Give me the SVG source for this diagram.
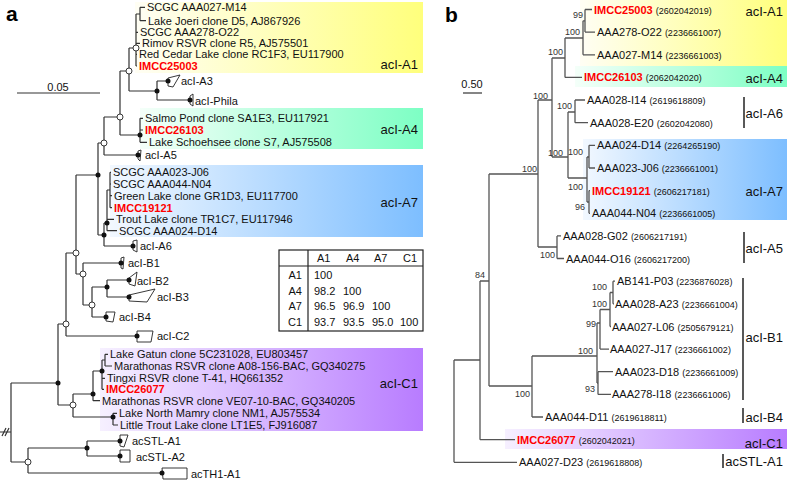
<svg xmlns="http://www.w3.org/2000/svg" width="787" height="480" viewBox="0 0 787 480">
<defs>
<linearGradient id="gY" x1="0" x2="1" y1="0" y2="0"><stop offset="0" stop-color="#fffef4"/><stop offset="1" stop-color="#ffff7c"/></linearGradient>
<linearGradient id="gG" x1="0" x2="1" y1="0" y2="0"><stop offset="0" stop-color="#f4fff9"/><stop offset="1" stop-color="#7dffc4"/></linearGradient>
<linearGradient id="gB" x1="0" x2="1" y1="0" y2="0"><stop offset="0" stop-color="#f2f8ff"/><stop offset="1" stop-color="#7dbeff"/></linearGradient>
<linearGradient id="gP" x1="0" x2="1" y1="0" y2="0"><stop offset="0" stop-color="#f6f0ff"/><stop offset="1" stop-color="#b87cff"/></linearGradient>
<style>
.t{font-family:"Liberation Sans",Arial,sans-serif;font-size:11px;fill:#111}
.r{fill:#ff0000;font-weight:bold}
.n{font-size:9px}
.s{font-family:"Liberation Sans",Arial,sans-serif;font-size:9px;fill:#333}
.cl{font-family:"Liberation Sans",Arial,sans-serif;font-size:13px;fill:#111}
.pl{font-family:"Liberation Sans",Arial,sans-serif;font-size:21px;font-weight:bold;fill:#000}
.ln{stroke:#333;stroke-width:1.2;fill:none}
.lb{stroke:#555;stroke-width:1.3;fill:none}
.w{fill:#fff;stroke:#222;stroke-width:0.9}
.d{fill:#111}
.o{fill:#fff;stroke:#222;stroke-width:0.9}
</style>
</defs>
<rect width="787" height="480" fill="#fff"/>

<!-- panel a backgrounds -->
<g id="bands-a">
<rect x="135" y="2" width="288" height="71" fill="url(#gY)"/>
<rect x="140" y="108" width="283" height="41" fill="url(#gG)"/>
<rect x="110" y="165" width="313" height="72" fill="url(#gB)"/>
<rect x="100" y="348" width="323" height="83" fill="url(#gP)"/>
</g>
<!-- panel b backgrounds -->
<g id="bands-b">
<rect x="580" y="0" width="207" height="66" fill="url(#gY)"/>
<rect x="575" y="66" width="212" height="21" fill="url(#gG)"/>
<rect x="583" y="139" width="204" height="81" fill="url(#gB)"/>
<rect x="505" y="429" width="282" height="20" fill="url(#gP)"/>
</g>

<text class="pl" x="6" y="21">a</text>
<text class="pl" x="445" y="22">b</text>

<!-- scale bars -->
<g id="scale-a">
<line class="ln" x1="17" y1="93" x2="100" y2="93"/>
<text class="t" x="58" y="91" text-anchor="middle">0.05</text>
</g>
<g id="scale-b">
<line class="ln" x1="463" y1="93" x2="482" y2="93"/>
<text class="t" x="472" y="88" text-anchor="middle">0.50</text>
</g>

<!-- connectors panel a -->
<g id="connectors-a" class="ln">
<path d="M140,7.3V20.7 M140,7.3H145 M140,20.7H146"/>
<path d="M136,14V66 M136,14H140 M136,32.3H138 M136,43.3H140 M136,54.3H137 M136,66H137"/>
<path d="M129,48V91 M129,48H136 M129,91H157"/>
<path d="M157,81V100 M157,81H168 M157,100H190"/>
<path d="M120,71V135 M120,71H129 M120,135H140"/>
<path d="M140,118.3V142.3 M140,118.3H143 M140,130H143 M140,142.3H147"/>
<path d="M104,117V155 M104,117H120 M104,155H138"/>
<path d="M98,143V235 M98,143H104 M98,235H104"/>
<path d="M104,223V246 M104,223H107 M104,246H133"/>
<path d="M107,190V230.7 M107,190H110 M107,219.3H114 M107,230.7H117"/>
<path d="M110,172.3V207.7 M110,172.3H111 M110,184H111 M110,195.7H112 M110,207.7H112"/>
<path d="M76,175V274 M76,175H98 M76,274H83"/>
<path d="M83,263V305 M83,263H121 M83,305H92"/>
<path d="M92,287V317 M92,287H107 M92,317H106"/>
<path d="M107,280V297 M107,280H129 M107,297H129"/>
<path d="M66,253V336 M66,253H76 M66,336H137"/>
<path d="M58,324V405 M58,324H66 M58,405H73"/>
<path d="M73,394V417 M73,394H93 M73,417H113"/>
<path d="M93,371V400.7 M93,371H102 M93,400.7H100"/>
<path d="M102,360V389.3 M102,360H105 M102,378.3H105 M102,389.3H104"/>
<path d="M105,354.3V366 M105,354.3H108 M105,366H112"/>
<path d="M113,413.3V425 M113,413.3H117 M113,425H118"/>
<path d="M11,383V462 M11,383H58 M11,462H28 M0,432H11"/>
<path d="M2,436L6,428 M5,436L9,428"/>
<path d="M28,448V473 M28,448H87 M28,473H162"/>
<path d="M87,441V456 M87,441H120 M87,456H120"/>
</g>

<!-- collapsed clades panel a -->
<g id="wedges-a">
<polygon class="w" points="168,78 180,75 173,87 168,86"/>
<polygon class="w" points="190,96 193,94 193,106 190,104"/>
<polygon class="w" points="138,151 141,150 140,161 138,159"/>
<polygon class="w" points="133,241 137,240 137,252 133,250"/>
<polygon class="w" points="121,258 124,257 123,269 121,268"/>
<polygon class="w" points="129,278 137,272 135,286 129,284"/>
<polygon class="w" points="129,295 155,289 147,302 129,301"/>
<polygon class="w" points="106,312 115,312 113,322 106,321"/>
<polygon class="w" points="137,331 153,331 151,342 137,342"/>
<polygon class="w" points="120,435 128,435 124,447 120,446"/>
<polygon class="w" points="120,450 130,450 130,462 120,462"/>
<polygon class="w" points="162,468 187,468 187,479 163,479"/>
</g>

<!-- node marks panel a -->
<g id="marks-a">
<circle class="o" cx="136" cy="48" r="3"/>
<circle class="o" cx="129" cy="71" r="3"/>
<circle class="d" cx="157" cy="91" r="2.5"/>
<circle class="d" cx="168" cy="81" r="2.5"/>
<circle class="d" cx="190" cy="100" r="2.5"/>
<circle class="o" cx="120" cy="117" r="3"/>
<circle class="d" cx="140" cy="135" r="2.5"/>
<circle class="o" cx="104" cy="143" r="3"/>
<circle class="d" cx="138" cy="155" r="2.5"/>
<circle class="d" cx="98" cy="175" r="2.5"/>
<circle class="d" cx="107" cy="223" r="2.5"/>
<circle class="d" cx="104" cy="235" r="2.5"/>
<circle class="d" cx="133" cy="246" r="2.5"/>
<circle class="o" cx="76" cy="253" r="3"/>
<circle class="d" cx="121" cy="263" r="2.5"/>
<circle class="o" cx="83" cy="274" r="3"/>
<circle class="d" cx="129" cy="280" r="2.5"/>
<circle class="d" cx="107" cy="287" r="2.5"/>
<circle class="d" cx="129" cy="297" r="2.5"/>
<circle class="o" cx="92" cy="305" r="3"/>
<circle class="d" cx="106" cy="317" r="2.5"/>
<circle class="o" cx="66" cy="324" r="3"/>
<circle class="d" cx="137" cy="336" r="2.5"/>
<circle class="d" cx="102" cy="371" r="2.5"/>
<circle class="d" cx="58" cy="383" r="2.5"/>
<circle class="d" cx="93" cy="394" r="2.5"/>
<circle class="o" cx="73" cy="405" r="3"/>
<circle class="d" cx="113" cy="417" r="2.5"/>
<circle class="d" cx="87" cy="448" r="2.5"/>
<circle class="d" cx="120" cy="441" r="2.5"/>
<circle class="d" cx="120" cy="456" r="2.5"/>
<circle class="o" cx="28" cy="462" r="3"/>
<circle class="d" cx="162" cy="473" r="2.5"/>
</g>

<!-- leaf labels panel a -->
<g id="leaves-a">
<text class="t" x="147" y="11.3">SCGC AAA027-M14</text>
<text class="t" x="148" y="24.7">Lake Joeri clone D5, AJ867926</text>
<text class="t" x="140" y="36.3">SCGC AAA278-O22</text>
<text class="t" x="142" y="47.3">Rimov RSVR clone R5, AJ575501</text>
<text class="t" x="139" y="58.3">Red Cedar Lake clone RC1F3, EU117900</text>
<text class="t r" x="139" y="70">IMCC25003</text>
<text class="t" x="181" y="85">acI-A3</text>
<text class="t" x="195" y="105">acI-Phila</text>
<text class="t" x="145" y="122.3">Salmo Pond clone SA1E3, EU117921</text>
<text class="t r" x="145" y="134">IMCC26103</text>
<text class="t" x="149" y="146.3">Lake Schoehsee clone S7, AJ575508</text>
<text class="t" x="145" y="159">acI-A5</text>
<text class="t" x="113" y="176.3">SCGC AAA023-J06</text>
<text class="t" x="113" y="188">SCGC AAA044-N04</text>
<text class="t" x="114" y="199.7">Green Lake clone GR1D3, EU117700</text>
<text class="t r" x="114" y="211.7">IMCC19121</text>
<text class="t" x="116" y="223.3">Trout Lake clone TR1C7, EU117946</text>
<text class="t" x="119" y="234.7">SCGC AAA024-D14</text>
<text class="t" x="140" y="250">acI-A6</text>
<text class="t" x="128" y="267">acI-B1</text>
<text class="t" x="137" y="285">acI-B2</text>
<text class="t" x="157" y="301">acI-B3</text>
<text class="t" x="119" y="321">acI-B4</text>
<text class="t" x="157" y="340">acI-C2</text>
<text class="t" x="110" y="358.3">Lake Gatun clone 5C231028, EU803457</text>
<text class="t" x="114" y="370">Marathonas RSVR clone A08-156-BAC, GQ340275</text>
<text class="t" x="107" y="382.3">Tingxi RSVR clone T-41, HQ661352</text>
<text class="t r" x="106" y="393.3">IMCC26077</text>
<text class="t" x="102" y="404.7">Marathonas RSVR clone VE07-10-BAC, GQ340205</text>
<text class="t" x="119" y="417.3">Lake North Mamry clone NM1, AJ575534</text>
<text class="t" x="120" y="429">Little Trout Lake clone LT1E5, FJ916087</text>
<text class="t" x="132" y="445">acSTL-A1</text>
<text class="t" x="136" y="461">acSTL-A2</text>
<text class="t" x="191" y="478">acTH1-A1</text>
</g>

<g id="clade-labels-a">
<text class="cl" x="418" y="69" text-anchor="end">acI-A1</text>
<text class="cl" x="418" y="134" text-anchor="end">acI-A4</text>
<text class="cl" x="418" y="207" text-anchor="end">acI-A7</text>
<text class="cl" x="418" y="388" text-anchor="end">acI-C1</text>
</g>

<!-- identity table -->
<g id="table">
<rect x="279" y="250" width="144" height="81" fill="#fff" stroke="#222" stroke-width="1.2"/>
<line x1="308" y1="250" x2="308" y2="331" stroke="#222" stroke-width="1.2"/>
<line x1="279" y1="266" x2="423" y2="266" stroke="#222" stroke-width="1.2"/>
<text class="t" x="317" y="262">A1</text>
<text class="t" x="346" y="262">A4</text>
<text class="t" x="374" y="262">A7</text>
<text class="t" x="403" y="262">C1</text>
<text class="t" x="302" y="279" text-anchor="end">A1</text>
<text class="t" x="302" y="295" text-anchor="end">A4</text>
<text class="t" x="302" y="310" text-anchor="end">A7</text>
<text class="t" x="302" y="326" text-anchor="end">C1</text>
<text class="t" x="314" y="279">100</text>
<text class="t" x="314" y="295">98.2</text><text class="t" x="343" y="295">100</text>
<text class="t" x="314" y="310">96.5</text><text class="t" x="343" y="310">96.9</text><text class="t" x="372" y="310">100</text>
<text class="t" x="314" y="326">93.7</text><text class="t" x="343" y="326">93.5</text><text class="t" x="372" y="326">95.0</text><text class="t" x="400" y="326">100</text>
</g>

<!-- connectors panel b -->
<g id="connectors-b" class="lb">
<path d="M585,9.5V32.1 M585,9.5H592 M585,32.1H595"/>
<path d="M583,20.8V54.8 M583,20.8H585 M583,54.8H595"/>
<path d="M565,38V77.4 M565,38H583 M565,77.4H582"/>
<path d="M552,58V157 M552,58H565 M552,157H568"/>
<path d="M575,100V122.7 M575,100H585 M575,122.7H588"/>
<path d="M568,112V178 M568,112H575 M568,178H587"/>
<path d="M587,157V202 M587,157H589 M587,202H589"/>
<path d="M589,145.3V168 M589,145.3H595 M589,168H595"/>
<path d="M589,190.6V213.3 M589,190.6H590 M589,213.3H590"/>
<path d="M538,100V247 M538,100H552 M538,247H557"/>
<path d="M557,235.9V258.5 M557,235.9H561 M557,258.5H564"/>
<path d="M489,174V386 M489,174H538 M489,386H532"/>
<path d="M613,281.2V303.8 M613,281.2H615 M613,303.8H614"/>
<path d="M610,292.5V326.5 M610,292.5H613 M610,326.5H611"/>
<path d="M600,309.5V349.1 M600,309.5H610 M600,349.1H609"/>
<path d="M598,371.7V394.4 M598,371.7H613 M598,394.4H611"/>
<path d="M597,323V383 M597,323H600 M597,383H598"/>
<path d="M532,356V417 M532,356H597 M532,417H543"/>
<path d="M480,281V439.7 M480,281H489 M480,439.7H515"/>
<path d="M454,360V462.3 M454,360H480 M454,462.3H517"/>
</g>

<!-- support values -->
<g id="support-b">
<text class="s" x="583" y="18" text-anchor="end">99</text>
<text class="s" x="580" y="35" text-anchor="end">100</text>
<text class="s" x="563" y="55" text-anchor="end">100</text>
<text class="s" x="548" y="99" text-anchor="end">100</text>
<text class="s" x="572" y="109" text-anchor="end">100</text>
<text class="s" x="563" y="156" text-anchor="end">100</text>
<text class="s" x="583" y="155" text-anchor="end">100</text>
<text class="s" x="537" y="172" text-anchor="end">100</text>
<text class="s" x="583" y="190" text-anchor="end">100</text>
<text class="s" x="585" y="210" text-anchor="end">96</text>
<text class="s" x="555" y="258" text-anchor="end">100</text>
<text class="s" x="485" y="278" text-anchor="end">84</text>
<text class="s" x="607" y="290" text-anchor="end">100</text>
<text class="s" x="607" y="307" text-anchor="end">100</text>
<text class="s" x="596" y="327" text-anchor="end">99</text>
<text class="s" x="593" y="354" text-anchor="end">100</text>
<text class="s" x="595" y="392" text-anchor="end">93</text>
<text class="s" x="530" y="397" text-anchor="end">100</text>
</g>

<!-- leaf labels panel b -->
<g id="leaves-b">
<text class="t" x="594" y="13.5"><tspan class="r">IMCC25003</tspan> <tspan class="n">(2602042019)</tspan></text>
<text class="t" x="597" y="36.1">AAA278-O22 <tspan class="n">(2236661007)</tspan></text>
<text class="t" x="597" y="58.8">AAA027-M14 <tspan class="n">(2236661003)</tspan></text>
<text class="t" x="584" y="81.4"><tspan class="r">IMCC26103</tspan> <tspan class="n">(2062042020)</tspan></text>
<text class="t" x="587" y="104">AAA028-I14 <tspan class="n">(2619618809)</tspan></text>
<text class="t" x="590" y="126.7">AAA028-E20 <tspan class="n">(2602042080)</tspan></text>
<text class="t" x="597" y="149.3">AAA024-D14 <tspan class="n">(2264265190)</tspan></text>
<text class="t" x="597" y="172">AAA023-J06 <tspan class="n">(2236661001)</tspan></text>
<text class="t" x="592" y="194.6"><tspan class="r">IMCC19121</tspan> <tspan class="n">(2606217181)</tspan></text>
<text class="t" x="592" y="217.3">AAA044-N04 <tspan class="n">(2236661005)</tspan></text>
<text class="t" x="563" y="239.9">AAA028-G02 <tspan class="n">(2606217191)</tspan></text>
<text class="t" x="566" y="262.5">AAA044-O16 <tspan class="n">(2606217200)</tspan></text>
<text class="t" x="617" y="285.2">AB141-P03 <tspan class="n">(2236876028)</tspan></text>
<text class="t" x="615" y="307.8">AAA028-A23 <tspan class="n">(2236661004)</tspan></text>
<text class="t" x="612" y="330.5">AAA027-L06 <tspan class="n">(2505679121)</tspan></text>
<text class="t" x="610" y="353.1">AAA027-J17 <tspan class="n">(2236661002)</tspan></text>
<text class="t" x="615" y="375.7">AAA023-D18 <tspan class="n">(2236661009)</tspan></text>
<text class="t" x="612" y="398.4">AAA278-I18 <tspan class="n">(2236661006)</tspan></text>
<text class="t" x="545" y="421">AAA044-D11 <tspan class="n">(2619618811)</tspan></text>
<text class="t" x="517" y="443.7"><tspan class="r">IMCC26077</tspan> <tspan class="n">(2602042021)</tspan></text>
<text class="t" x="519" y="466.3">AAA027-D23 <tspan class="n">(2619618808)</tspan></text>
</g>

<g id="clade-labels-b">
<text class="cl" x="783" y="16" text-anchor="end">acI-A1</text>
<text class="cl" x="783" y="83" text-anchor="end">acI-A4</text>
<line x1="744" y1="97" x2="744" y2="128" stroke="#222" stroke-width="1.5"/>
<text class="cl" x="783" y="118" text-anchor="end">acI-A6</text>
<text class="cl" x="783" y="196" text-anchor="end">acI-A7</text>
<line x1="744" y1="232" x2="744" y2="263" stroke="#222" stroke-width="1.5"/>
<text class="cl" x="783" y="253" text-anchor="end">acI-A5</text>
<line x1="743" y1="278" x2="743" y2="400" stroke="#222" stroke-width="1.5"/>
<text class="cl" x="783" y="342" text-anchor="end">acI-B1</text>
<line x1="743" y1="408" x2="743" y2="423" stroke="#222" stroke-width="1.5"/>
<text class="cl" x="783" y="422" text-anchor="end">acI-B4</text>
<text class="cl" x="783" y="448" text-anchor="end">acI-C1</text>
<line x1="723" y1="454" x2="723" y2="468" stroke="#222" stroke-width="1.5"/>
<text class="cl" x="783" y="466" text-anchor="end">acSTL-A1</text>
</g>
</svg>
